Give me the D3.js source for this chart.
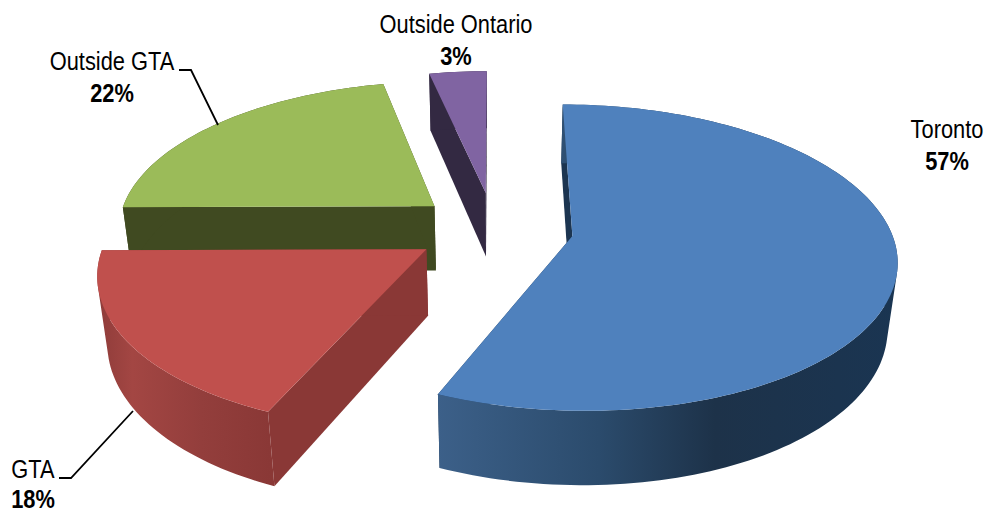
<!DOCTYPE html>
<html>
<head>
<meta charset="utf-8">
<script src="https://cdn.jsdelivr.net/npm/d3@7"></script>
<style>
  html, body { margin: 0; padding: 0; background: #fff; }
  text { font-family: "Liberation Sans", Arial, sans-serif; font-size: 26px; fill: #000; }
</style>
</head>
<body>
<div id="chart"></div>
<script>
const names = ["Toronto", "GTA", "Outside GTA", "Outside Ontario"];
const values = [56.5, 18.4, 21.7, 3.4];
const explodes = [0.25, 0.25, 0.245, 0.25];
const pctLabels = ["57%", "18%", "22%", "3%"];
const faceColors = ["#4f81bd", "#c0504d", "#9bbb59", "#8064a2"];
const wallColors = ["#1c3551", "#8a3836", "#404a21", "#332942"];

const width = 989;
const height = 512;

const svg = d3.select("#chart")
    .append("svg")
    .attr("width", width)
    .attr("height", height)
    .style("display", "block");

// perspective view of the tilted disc: u to the right, v towards the viewer, h = 0 top, 1 bottom
const view = {cx: 494, cy: 228.5, fx: 318, fy: 148, tilt: 0.14, depth: 66, sinkX: 0.025, sinkY: 0.01};

function project(u, v, h) {
    const w = 1 - view.tilt * v;
    return [
        view.cx + view.fx * u / (w + view.sinkX * h),
        view.cy + (view.fy * v + view.depth * h) / (w + view.sinkY * h)
    ];
}

const pie = d3.pie().sort(null)(values);
const line = d3.line();

// apex and rim of a slice in disc units
function apex(d) {
    const mid = (d.startAngle + d.endAngle) / 2;
    return [explodes[d.index] * Math.sin(mid), -explodes[d.index] * Math.cos(mid)];
}
function rim(d, a) {
    const c = apex(d);
    return [c[0] + Math.sin(a), c[1] - Math.cos(a)];
}
function arcAngles(d) {
    const n = Math.max(8, Math.round((d.endAngle - d.startAngle) * 40));
    return d3.range(n + 1).map(i => d.startAngle + (d.endAngle - d.startAngle) * i / n);
}

const defs = svg.append("defs");

const blueWall = defs.append("linearGradient")
    .attr("id", "wall0")
    .attr("gradientUnits", "userSpaceOnUse")
    .attr("x1", 437).attr("x2", 900).attr("y1", 0).attr("y2", 0);
[[0, "#3c6089"], [0.35, "#2b4b6c"], [0.6, "#1d3249"], [1, "#1a3552"]].forEach(s => {
    blueWall.append("stop").attr("offset", s[0]).attr("stop-color", s[1]);
});

const redWall = defs.append("linearGradient")
    .attr("id", "wall1")
    .attr("gradientUnits", "userSpaceOnUse")
    .attr("x1", 98).attr("x2", 270).attr("y1", 0).attr("y2", 0);
[[0, "#8f3c3a"], [0.2, "#a34643"], [0.6, "#933e3c"], [1, "#8a3836"]].forEach(s => {
    redWall.append("stop").attr("offset", s[0]).attr("stop-color", s[1]);
});

// back slices first so the nearer ones paint over them
const order = [3, 2, 1, 0];

order.forEach(i => {
    const d = pie[i];
    const c = apex(d);
    const g = svg.append("g").attr("class", "slice");
    const angles = arcAngles(d);

    const sideWall = a => {
        const r = rim(d, a);
        return [project(c[0], c[1], 0), project(r[0], r[1], 0), project(r[0], r[1], 1), project(c[0], c[1], 1)];
    };

    g.append("path")
        .attr("d", line(sideWall(d.startAngle)) + "Z")
        .attr("fill", wallColors[i]);
    g.append("path")
        .attr("d", line(sideWall(d.endAngle)) + "Z")
        .attr("fill", wallColors[i]);

    // rim wall: quads wound the same way in one path, so they merge without seams
    const rimPath = d3.pairs(angles).map(pair => {
        const r0 = rim(d, pair[0]);
        const r1 = rim(d, pair[1]);
        const quad = [project(r0[0], r0[1], 0), project(r1[0], r1[1], 0), project(r1[0], r1[1], 1), project(r0[0], r0[1], 1)];
        if (d3.polygonArea(quad) < 0) quad.reverse();
        return line(quad) + "Z";
    }).join("");
    g.append("path")
        .attr("d", rimPath)
        .attr("fill", i < 2 ? `url(#wall${i})` : wallColors[i]);

    const top = angles.map(a => { const r = rim(d, a); return project(r[0], r[1], 0); });
    g.append("path")
        .attr("d", line([project(c[0], c[1], 0)].concat(top)) + "Z")
        .attr("fill", faceColors[i]);
});

// leader lines
const leaders = [
    [[59, 478], [71, 478], [133, 411]],
    [[179, 70], [191, 70], [218, 125]]
];
svg.selectAll("path.leader")
    .data(leaders)
    .enter()
    .append("path")
    .attr("class", "leader")
    .attr("d", line)
    .attr("fill", "none")
    .attr("stroke", "#000")
    .attr("stroke-width", 1.8);

// labels, squeezed a little like the original
const labelAt = [
    {x: 947, y: 138, y2: 170},
    {x: 33, y: 478, y2: 508},
    {x: 112, y: 70, y2: 102},
    {x: 456, y: 33, y2: 65}
];
names.forEach((name, i) => {
    const p = labelAt[i];
    svg.append("text")
        .attr("transform", `translate(${p.x},${p.y}) scale(0.84,1)`)
        .attr("text-anchor", "middle")
        .text(name);
    svg.append("text")
        .attr("transform", `translate(${p.x},${p.y2}) scale(0.84,1)`)
        .attr("text-anchor", "middle")
        .style("font-weight", "bold")
        .text(pctLabels[i]);
});
</script>
</body>
</html>
